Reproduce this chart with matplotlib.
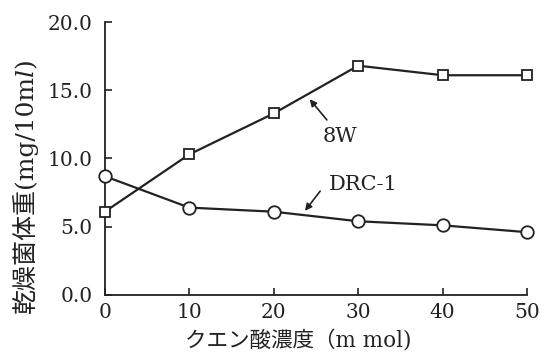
import matplotlib
matplotlib.use("Agg")
import matplotlib.pyplot as plt

# data
conc = [0, 10, 20, 30, 40, 50]
w8 = [6.1, 10.3, 13.3, 16.8, 16.1, 16.1]
drc1 = [8.7, 6.4, 6.1, 5.4, 5.1, 4.6]
yticks = [0, 5, 10, 15, 20]
xticks = [0, 10, 20, 30, 40, 50]

serif = ['DejaVu Serif', 'Noto Sans CJK JP', 'DejaVu Sans']
ink = '#222222'

fig = plt.figure(figsize=(5.49, 3.61), dpi=100)
ax = fig.add_axes([0.191, 0.183, 0.769, 0.756])

ax.plot(conc, w8, color=ink, lw=1.6, marker='s', ms=7,
        mfc='white', mec=ink, mew=1.3, clip_on=False, zorder=3)
ax.plot(conc, drc1, color=ink, lw=1.6, marker='o', ms=9,
        mfc='white', mec=ink, mew=1.3, clip_on=False, zorder=3)

ax.set_xlim(0, 50)
ax.set_ylim(0, 20)
ax.set_xticks(xticks)
ax.set_yticks(yticks)
ax.set_xticklabels([str(v) for v in xticks], family=serif, fontsize=14.5)
ax.set_yticklabels(['%.1f' % v for v in yticks], family=serif, fontsize=14.5)
ax.tick_params(direction='in', length=5, width=1.2, color=ink,
               labelcolor=ink)
ax.tick_params(axis='y', pad=9)
ax.tick_params(axis='x', pad=6)
for s in ['top', 'right']:
    ax.spines[s].set_visible(False)
for s in ['left', 'bottom']:
    ax.spines[s].set_linewidth(1.3)
    ax.spines[s].set_color(ink)

fig.text(0.543, 0.058, 'クエン酸濃度（m mol)', family=serif, fontsize=15.5,
         color=ink, ha='center', va='center')
fig.text(0.046, 0.487, '乾燥菌体重(mg/10m\U0001D459)', family=serif,
         fontsize=18, color=ink, ha='center', va='center', rotation=90)

arr = dict(arrowstyle='-|>', color=ink, lw=1.2, mutation_scale=10)
ax.annotate('', xy=(24.05, 14.5), xytext=(26.5, 12.67), arrowprops=arr)
ax.text(27.9, 11.6, '8W', family=serif, fontsize=15, color=ink,
        ha='center', va='center')
ax.annotate('', xy=(23.5, 6.0), xytext=(25.7, 7.77), arrowprops=arr)
ax.text(26.5, 8.06, 'DRC-1', family=serif, fontsize=15, color=ink,
        ha='left', va='center')

fig.savefig('out.png', dpi=100)
